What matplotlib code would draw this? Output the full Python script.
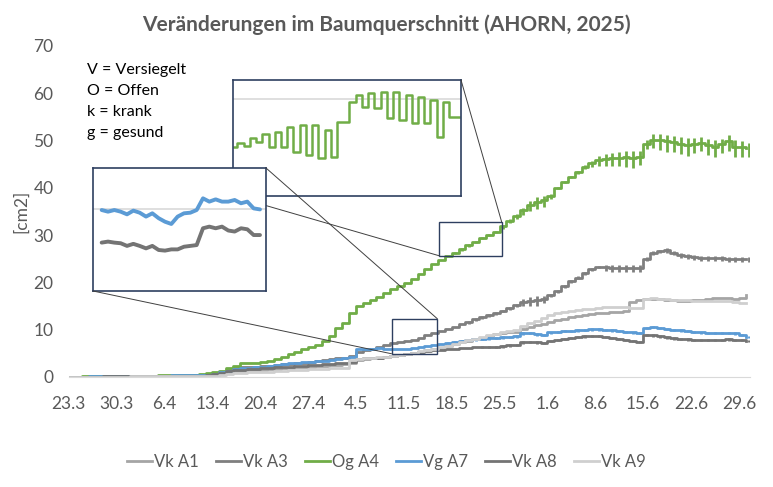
import numpy as np
import pandas as pd
import matplotlib
matplotlib.use("Agg")
import matplotlib.pyplot as plt
from matplotlib.patches import Rectangle, ConnectionPatch

plt.rcParams["font.family"] = ["Lato", "DejaVu Sans"]

# daily readings from 23.3.2025 (day 0) on, cm2
dates = pd.date_range("2025-03-23", periods=100, freq="D")

vk_a1 = [0.0, 0.0, 0.0, 0.05, 0.05, 0.05, 0.05, 0.1, 0.1, 0.1, 0.1, 0.1, 0.15, 0.15, 0.15, 0.15, 0.2, 0.2, 0.2, 0.25,
         0.3, 0.5, 0.8, 1.0, 1.2, 1.3, 1.4, 1.5, 1.5, 1.6, 1.7, 1.8, 1.9, 2.0, 2.1, 2.2, 2.3, 2.4, 2.5, 2.6,
         2.7, 2.9, 3.6, 3.8, 3.9, 4.0, 4.2, 4.4, 4.6, 4.8, 5.0, 5.3, 5.6, 5.9, 6.2, 6.6, 7.0, 7.3, 7.7, 8.0,
         8.3, 8.6, 9.0, 9.3, 9.4, 9.5, 10.2, 10.6, 10.9, 11.2, 11.6, 12.0, 12.3, 12.6, 12.8, 13.0, 13.2, 13.5, 13.6, 13.7,
         13.8, 14.0, 15.8, 16.3, 16.4, 16.5, 16.4, 16.3, 16.2, 16.1, 16.1, 16.2, 16.3, 16.5, 16.6, 16.7, 16.6, 16.5, 16.7, 17.3]

vk_a3 = [0.0, 0.05, 0.05, 0.1, 0.1, 0.1, 0.15, 0.15, 0.2, 0.2, 0.2, 0.25, 0.25, 0.3, 0.3, 0.3, 0.35, 0.35, 0.4, 0.4,
         0.5, 0.7, 1.1, 1.5, 1.8, 2.0, 2.1, 2.2, 2.3, 2.4, 2.5, 2.7, 2.8, 2.9, 3.0, 3.2, 3.4, 3.5, 3.7, 3.9,
         4.1, 4.4, 5.3, 5.7, 6.0, 6.4, 6.7, 7.2, 7.4, 7.6, 7.9, 8.3, 8.8, 9.3, 9.8, 10.2, 10.6, 11.1, 11.6, 12.2,
         12.7, 13.1, 13.5, 14.0, 14.6, 15.2, 15.9, 16.1, 16.3, 16.5, 17.3, 18.2, 19.2, 20.3, 21.0, 22.0, 22.8, 23.3, 23.2, 23.1,
         23.0, 23.1, 23.0, 23.1, 25.0, 26.2, 26.6, 26.8, 26.3, 25.8, 25.5, 25.3, 25.2, 25.1, 25.1, 25.1, 25.0, 25.0, 25.0, 24.9]

og_a4 = [0.0, 0.05, 0.1, 0.1, 0.1, 0.15, 0.2, 0.2, 0.2, 0.25, 0.3, 0.3, 0.3, 0.35, 0.4, 0.4, 0.4, 0.45, 0.5, 0.6,
         0.8, 1.0, 1.3, 1.9, 2.4, 2.9, 3.0, 3.0, 3.1, 3.3, 3.8, 4.3, 4.9, 5.3, 5.8, 6.3, 6.8, 7.5, 8.7, 10.3,
         11.5, 13.6, 15.0, 15.6, 16.2, 17.0, 17.8, 18.6, 19.3, 19.9, 20.8, 21.8, 22.9, 23.9, 24.7, 25.5, 26.3, 27.0, 27.8, 28.6,
         29.4, 30.0, 30.7, 31.8, 33.0, 34.0, 35.2, 36.4, 37.0, 37.3, 38.2, 40.0, 41.2, 42.3, 43.3, 44.4, 45.2, 45.8, 46.1, 46.3,
         46.3, 46.4, 46.3, 46.5, 49.3, 50.1, 50.0, 49.8, 49.6, 49.3, 49.0, 49.2, 49.5, 49.0, 48.6, 49.2, 49.8, 48.6, 48.5, 48.3]

vg_a7 = [0.0, 0.05, 0.05, 0.1, 0.1, 0.1, 0.15, 0.15, 0.2, 0.2, 0.2, 0.25, 0.25, 0.3, 0.3, 0.35, 0.35, 0.4, 0.4, 0.45,
         0.5, 0.7, 1.0, 1.3, 1.6, 1.8, 1.9, 2.0, 2.1, 2.3, 2.5, 2.7, 2.9, 3.0, 3.1, 3.2, 3.3, 3.4, 3.5, 3.7,
         3.9, 4.3, 5.8, 6.0, 6.0, 6.1, 6.0, 5.9, 5.8, 5.9, 6.1, 6.3, 6.6, 6.8, 7.0, 7.2, 7.4, 7.6, 7.8, 8.0,
         8.1, 8.2, 8.3, 8.4, 8.5, 8.6, 9.2, 9.3, 9.0, 8.9, 9.4, 9.6, 9.7, 9.8, 9.9, 10.0, 10.1, 10.1, 10.0, 9.9,
         9.8, 9.6, 9.4, 9.3, 10.4, 10.6, 10.4, 10.2, 10.0, 9.9, 9.7, 9.5, 9.4, 9.3, 9.3, 9.3, 9.3, 9.2, 8.9, 8.5]

vk_a8 = [0.0, 0.0, 0.05, 0.05, 0.05, 0.1, 0.1, 0.1, 0.1, 0.15, 0.15, 0.15, 0.2, 0.2, 0.2, 0.2, 0.25, 0.25, 0.3, 0.3,
         0.4, 0.6, 0.9, 1.2, 1.4, 1.5, 1.6, 1.7, 1.8, 1.9, 2.0, 2.1, 2.2, 2.3, 2.4, 2.5, 2.6, 2.7, 2.8, 2.9,
         3.0, 3.2, 3.8, 3.9, 4.0, 4.1, 4.3, 4.5, 4.7, 4.9, 5.0, 5.2, 5.4, 5.6, 5.7, 5.8, 6.0, 6.1, 6.2, 6.3,
         6.4, 6.4, 6.4, 6.5, 6.7, 6.8, 7.3, 7.4, 7.3, 7.2, 7.6, 7.9, 8.1, 8.3, 8.5, 8.6, 8.7, 8.7, 8.5, 8.3,
         8.1, 7.9, 7.7, 7.4, 8.9, 8.8, 8.6, 8.4, 8.2, 8.1, 8.0, 7.9, 7.8, 7.8, 7.8, 7.9, 8.0, 7.9, 7.8, 7.6]

vk_a9 = [0.0, 0.0, 0.0, 0.0, 0.05, 0.05, 0.05, 0.05, 0.05, 0.1, 0.1, 0.1, 0.1, 0.1, 0.1, 0.15, 0.15, 0.15, 0.15, 0.2,
         0.2, 0.3, 0.5, 0.7, 0.8, 0.9, 1.0, 1.0, 1.1, 1.1, 1.2, 1.3, 1.4, 1.4, 1.5, 1.6, 1.6, 1.7, 1.8, 1.8,
         1.9, 3.5, 3.8, 4.0, 4.1, 4.2, 4.3, 4.5, 4.7, 4.9, 5.1, 5.4, 5.7, 6.0, 6.3, 6.6, 7.0, 7.4, 7.8, 8.1,
         8.4, 8.8, 9.1, 9.4, 9.7, 10.0, 10.8, 11.4, 11.8, 12.4, 13.1, 13.5, 13.8, 14.0, 14.2, 14.3, 14.4, 14.6, 14.7, 14.7,
         14.7, 14.7, 14.6, 14.6, 16.5, 16.6, 16.5, 16.4, 16.3, 16.2, 16.2, 16.1, 16.1, 16.0, 16.0, 16.1, 16.0, 15.9, 15.7, 15.6]

# daily shrink/swell amplitude (night dip), cm2
og_a4_swing = [0] * 56 + [0.5] * 7 + [0.8, 0.8, 1.0, 1.5, 2.2, 2.5, 2.4, 1.0, 0.6, 0.5, 0.5, 0.6, 0.8, 1.2, 2.0, 2.6,
                                     2.8, 3.0, 3.2, 3.4, 3.0, 2.0, 3.0, 3.5, 3.6, 3.4, 3.6, 3.8, 3.2, 3.0, 3.4, 3.6,
                                     3.0, 3.4, 3.6, 3.2, 3.0]
vk_a3_swing = [0] * 58 + [0.6] * 8 + [1.5, 2.0, 2.2, 1.6] + [0.6] * 8 + [1.4] * 6 + [0.8] * 3 + [1.0] * 13
vg_a7_swing = [0] * 55 + [0.5] * 45
vk_a8_swing = [0] * 60 + [0.5] * 40

# zoomed details (sub-daily readings)
zoom_a4 = [25.1, 25.45, 25.2, 25.96, 25.62, 26.38, 25.1, 26.65, 25.1, 27.17, 24.58, 27.34, 24.24, 27.34, 23.9, 26.82,
           24.07, 27.7, 27.69, 29.75, 30.44, 29.24, 30.62, 29.07, 30.79, 28.03, 30.79, 27.86, 30.44, 27.52, 30.27,
           27.52, 29.93, 26.13, 29.75, 28.2, 28.2]
zoom_a7 = [5.95, 5.87, 5.95, 5.87, 5.74, 5.92, 5.82, 5.63, 5.79, 5.55, 5.38, 5.27, 5.63, 5.79, 5.82, 5.95, 6.52,
           6.36, 6.47, 6.36, 6.36, 6.44, 6.28, 6.36, 6.03, 5.98]
zoom_a8 = [4.36, 4.41, 4.36, 4.33, 4.20, 4.30, 4.20, 4.08, 4.20, 4.00, 3.97, 4.03, 4.03, 4.16, 4.20, 4.24, 5.06,
           5.14, 5.06, 5.14, 4.95, 4.90, 5.06, 5.01, 4.73, 4.73]

labels = ["Vk A1", "Vk A3", "Og A4", "Vg A7", "Vk A8", "Vk A9"]
colors = ["#A5A5A5", "#7F7F7F", "#70AD47", "#5B9BD5", "#747474", "#CFCFCF"]
series = [vk_a1, vk_a3, og_a4, vg_a7, vk_a8, vk_a9]
swings = {1: vk_a3_swing, 2: og_a4_swing, 3: vg_a7_swing, 4: vk_a8_swing}

days = np.arange(len(dates))
txt = "#595959"
navy = "#2E3F60"

fig = plt.figure(figsize=(7.73, 4.87), dpi=100)
ax = fig.add_axes([0.089, 0.226, 0.881, 0.680])

for i, (lab, col, vals) in enumerate(zip(labels, colors, series)):
    vals = np.array(vals)
    ax.plot(days, vals, drawstyle="steps-post", color=col, lw=2.0, label=lab, zorder=2 + i)
    if i in swings:
        s = np.array(swings[i])
        m = s > 0
        ax.vlines(days[m] + 0.5, vals[m] - 0.6 * s[m], vals[m] + 0.4 * s[m], color=col, lw=2.0, zorder=2 + i)

ax.set_xlim(0, 99.6)
ax.set_ylim(0, 70)
ax.set_yticks(range(0, 71, 10))
xt = days[::7]
ax.set_xticks(xt)
ax.set_xticklabels([f"{d.day}.{d.month}" for d in dates[::7]])
ax.tick_params(axis="both", length=0, labelsize=12.5, labelcolor=txt)
ax.tick_params(axis="x", pad=14)
ax.tick_params(axis="y", pad=11)
for sp in ["top", "right", "left"]:
    ax.spines[sp].set_visible(False)
ax.spines["bottom"].set_color("#D9D9D9")
ax.set_ylabel("[cm2]", fontsize=12.5, color=txt, labelpad=3)

fig.text(0.5, 0.95, "Veränderungen im Baumquerschnitt (AHORN, 2025)", ha="center", va="center",
         fontsize=15, fontweight="bold", color=txt)

notes = ["V = Versiegelt", "O = Offen", "k = krank", "g = gesund"]
for k, n in enumerate(notes):
    fig.text(87 / 773, 1 - (70 + 21 * k) / 487, n, ha="left", va="center", fontsize=11.5, color="black")

fig.legend(*ax.get_legend_handles_labels(), loc="center", bbox_to_anchor=(0.5, 0.051), ncol=6, frameon=False,
           fontsize=12, labelcolor=txt, handlelength=1.5, handletextpad=0.15, columnspacing=1.0)

# zoom boxes on the main chart
box_a4 = (54.2, 25.6, 9.1, 7.2)
box_a7 = (47.2, 4.9, 6.7, 7.4)
for b in (box_a4, box_a7):
    ax.add_patch(Rectangle(b[:2], b[2], b[3], fill=False, ec=navy, lw=1.0, zorder=10))

# green detail
ins1 = fig.add_axes([233 / 773, 1 - 196 / 487, 228 / 773, 116 / 487], zorder=3)
ins1.axhline(30, color="#D9D9D9", lw=1.2)
ins1.plot(np.arange(len(zoom_a4)), zoom_a4, drawstyle="steps-mid", color=colors[2], lw=1.8)
ins1.set_xlim(-0.2, len(zoom_a4) - 0.6)
ins1.set_ylim(20, 32)

# blue / grey detail
ins2 = fig.add_axes([93 / 773, 1 - 291 / 487, 173 / 773, 123 / 487], zorder=5)
ins2.axhline(6, color="#D9D9D9", lw=1.2)
ins2.plot(np.arange(len(zoom_a8)), zoom_a8, color=colors[4], lw=2.8, solid_capstyle="round")
ins2.plot(np.arange(len(zoom_a7)), zoom_a7, color=colors[3], lw=2.8, solid_capstyle="round")
ins2.set_xlim(-1.37, 25.95)
ins2.set_ylim(2, 8)

for ins in (ins1, ins2):
    ins.set_xticks([])
    ins.set_yticks([])
    for sp in ins.spines.values():
        sp.set_color(navy)
        sp.set_linewidth(1.2)

conns = [(ins1, (1, 1), (box_a4[0] + box_a4[2], box_a4[1] + box_a4[3]), 4),
         (ins1, (0, 0), (box_a4[0], box_a4[1]), 4),
         (ins2, (1, 1), (box_a7[0] + box_a7[2], box_a7[1] + box_a7[3]), 6),
         (ins2, (0, 0), (box_a7[0], box_a7[1]), 6)]
for ins, pa, pb, z in conns:
    cp = ConnectionPatch(xyA=pa, coordsA=ins.transAxes, xyB=pb, coordsB=ax.transData,
                         color="#404040", lw=0.7, zorder=z)
    fig.add_artist(cp)

fig.savefig("out.png", dpi=100)
